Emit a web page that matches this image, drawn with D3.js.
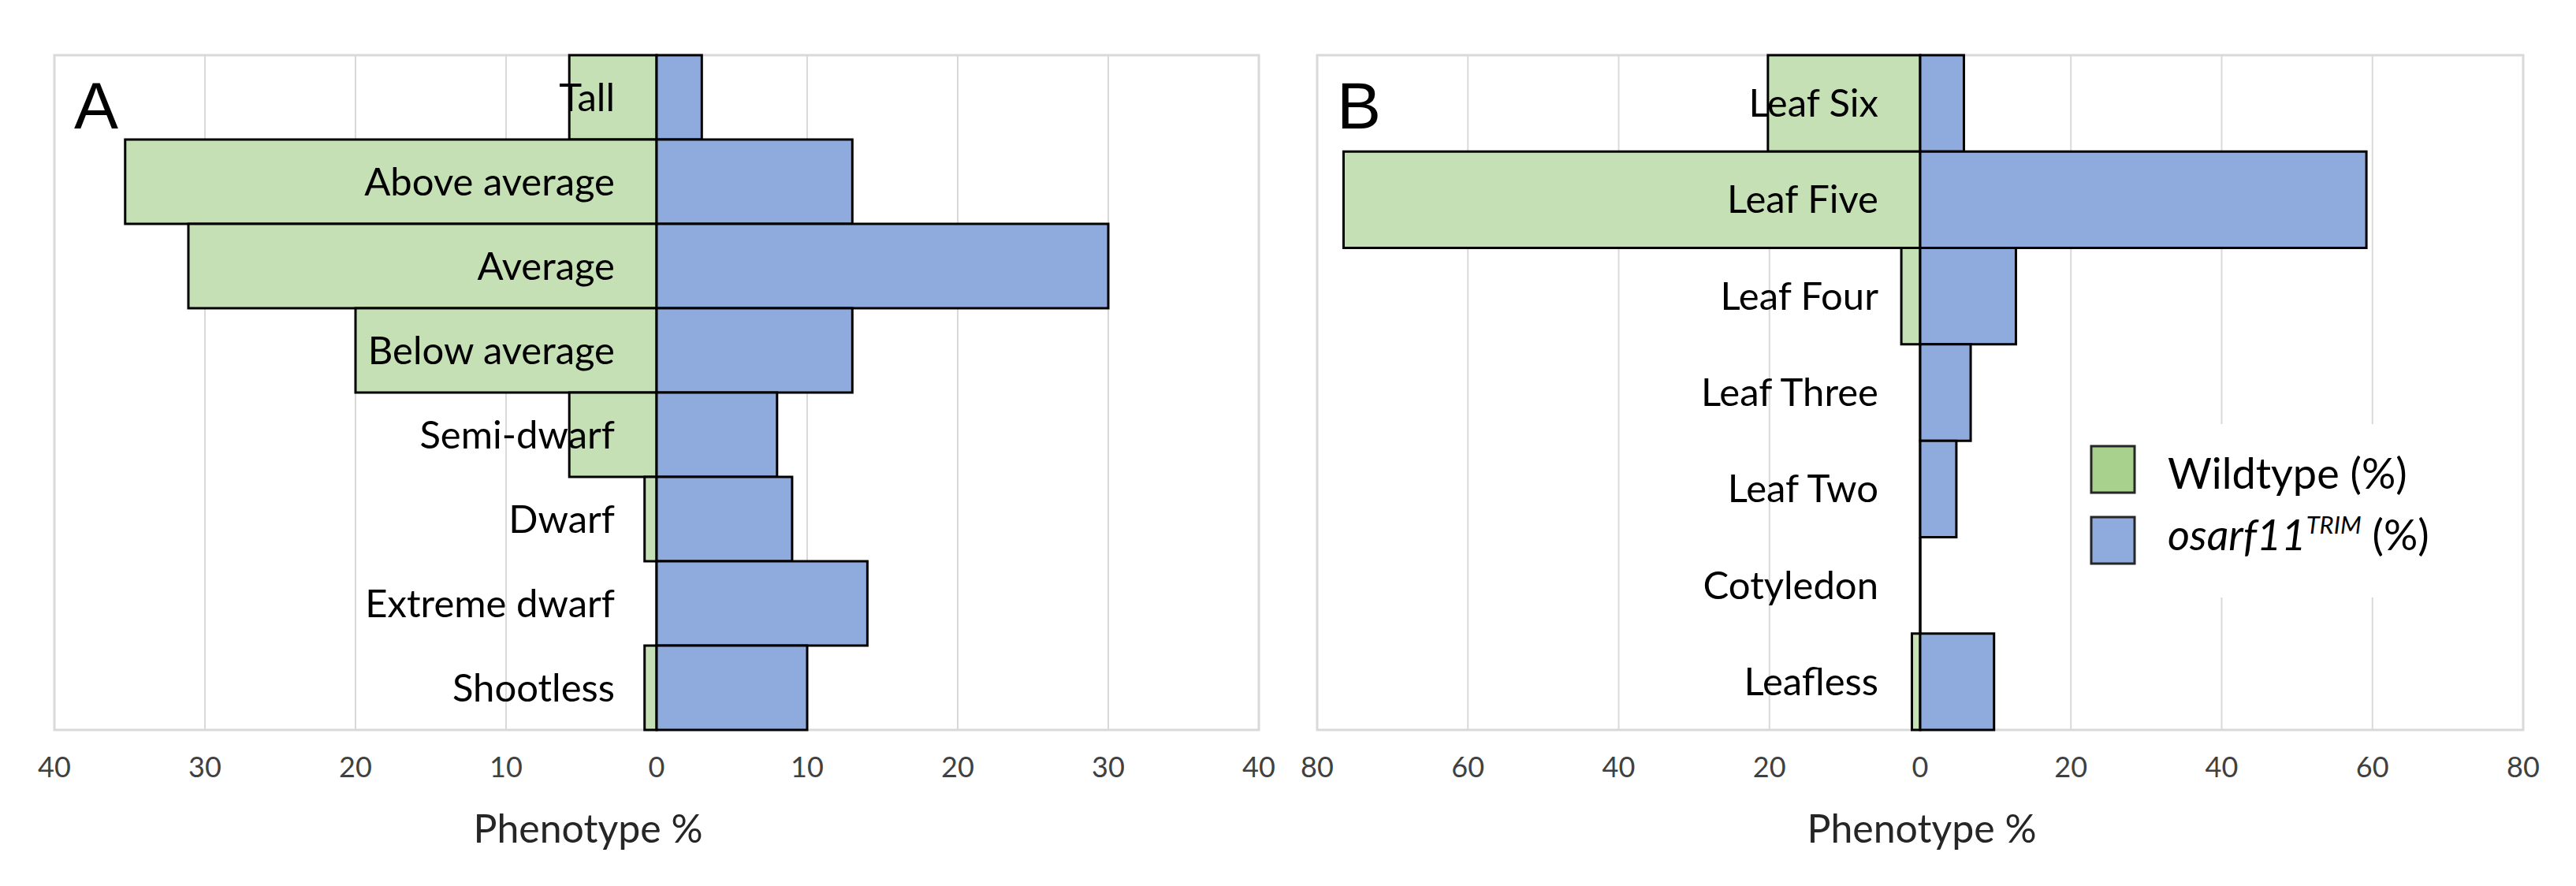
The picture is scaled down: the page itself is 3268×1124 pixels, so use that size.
<!DOCTYPE html>
<html>
<head>
<meta charset="utf-8">
<script src="https://cdn.jsdelivr.net/npm/d3@7"></script>
<style>
  body { margin: 0; background: #fff; }
  text { font-family: Lato, "Open Sans", sans-serif; }
</style>
</head>
<body>
<script>
// panel A: plant height phenotypes
var catsA = ["Tall", "Above average", "Average", "Below average", "Semi-dwarf", "Dwarf", "Extreme dwarf", "Shootless"];
var wildA = [5.8, 35.3, 31.1, 20.0, 5.8, 0.8, 0, 0.8];
var trimA = [3.0, 13.0, 30.0, 13.0, 8.0, 9.0, 14.0, 10.0];
var ticksA = [-40, -30, -20, -10, 0, 10, 20, 30, 40];

// panel B: leaf number phenotypes
var catsB = ["Leaf Six", "Leaf Five", "Leaf Four", "Leaf Three", "Leaf Two", "Cotyledon", "Leafless"];
var wildB = [20.2, 76.5, 2.5, 0, 0, 0, 1.1];
var trimB = [5.8, 59.2, 12.7, 6.7, 4.8, 0, 9.8];
var ticksB = [-80, -60, -40, -20, 0, 20, 40, 60, 80];

var seriesNames = ["Wildtype (%)", "osarf11", "TRIM", " (%)"];

var W = 3268, H = 1124;
var plotTop = 70, plotBottom = 926;
var green = "#c5e0b4", greenLegend = "#a9d18e", blue = "#8faadc";

var svg = d3.select("body").append("svg")
    .attr("width", W)
    .attr("height", H);

function panel(opts) {
  var x = d3.scaleLinear().domain(opts.domain).range([opts.left, opts.right]);
  var y = d3.scaleBand().domain(opts.cats).range([plotTop, plotBottom]).padding(0);
  var g = svg.append("g");

  // gridlines
  g.selectAll("line.grid")
    .data(opts.ticks)
    .enter().append("line")
      .attr("class", "grid")
      .attr("x1", function(d) { return x(d); })
      .attr("x2", function(d) { return x(d); })
      .attr("y1", plotTop)
      .attr("y2", plotBottom)
      .style("stroke", "#d9d9d9")
      .style("stroke-width", 2);

  // frame
  g.append("rect")
      .attr("x", opts.left)
      .attr("y", plotTop)
      .attr("width", opts.right - opts.left)
      .attr("height", plotBottom - plotTop)
      .style("fill", "none")
      .style("stroke", "#d9d9d9")
      .style("stroke-width", 3);

  // bars drawn as paths so zero-width bars still show their outline
  function bar(x0, x1, cat) {
    var y0 = y(cat), h = y.bandwidth();
    return "M" + x0 + "," + y0 + "H" + x1 + "V" + (y0 + h) + "H" + x0 + "Z";
  }

  g.selectAll("path.wild")
    .data(opts.cats)
    .enter().append("path")
      .attr("class", "wild")
      .attr("d", function(d, i) { return bar(x(-opts.wild[i]), x(0), d); })
      .style("fill", green)
      .style("stroke", "#000")
      .style("stroke-width", 3);

  g.selectAll("path.trim")
    .data(opts.cats)
    .enter().append("path")
      .attr("class", "trim")
      .attr("d", function(d, i) { return bar(x(0), x(opts.trim[i]), d); })
      .style("fill", blue)
      .style("stroke", "#000")
      .style("stroke-width", 3);

  // category labels sit inside the plot, left of zero
  g.selectAll("text.cat")
    .data(opts.cats)
    .enter().append("text")
      .attr("class", "cat")
      .attr("x", x(0) - 53)
      .attr("y", function(d) { return y(d) + y.bandwidth() / 2 + 17; })
      .attr("text-anchor", "end")
      .style("font-size", "49px")
      .style("fill", "#000")
      .text(function(d) { return d; });

  // tick labels
  g.selectAll("text.tick")
    .data(opts.ticks)
    .enter().append("text")
      .attr("class", "tick")
      .attr("x", function(d) { return x(d); })
      .attr("y", 986)
      .attr("text-anchor", "middle")
      .style("font-size", "36px")
      .style("fill", "#404040")
      .text(function(d) { return Math.abs(d); });

  // axis title
  g.append("text")
      .attr("x", opts.titleX)
      .attr("y", 1069)
      .attr("text-anchor", "middle")
      .style("font-size", "50px")
      .style("fill", "#262626")
      .text("Phenotype %");

  // panel letter
  g.append("text")
      .attr("x", opts.left + 25)
      .attr("y", 163)
      .style("font-family", "'Liberation Sans', Arial, sans-serif")
      .style("font-size", "84px")
      .style("fill", "#000")
      .text(opts.letter);

  return g;
}

panel({cats: catsA, wild: wildA, trim: trimA, ticks: ticksA, domain: [-40, 40],
       left: 69, right: 1597, titleX: 746, letter: "A"});

var gB = panel({cats: catsB, wild: wildB, trim: trimB, ticks: ticksB, domain: [-80, 80],
       left: 1671, right: 3201, titleX: 2438, letter: "B"});

// legend (white box hides the gridlines behind it)
var legend = gB.append("g");
legend.append("rect")
    .attr("x", 2636).attr("y", 538)
    .attr("width", 550).attr("height", 220)
    .style("fill", "#fff");

var legendColors = [greenLegend, blue];
var legendY = [566, 656];
legend.selectAll("rect.key")
  .data(legendColors)
  .enter().append("rect")
    .attr("class", "key")
    .attr("x", 2653)
    .attr("y", function(d, i) { return legendY[i]; })
    .attr("width", 55)
    .attr("height", 59)
    .style("fill", function(d) { return d; })
    .style("stroke", "#262626")
    .style("stroke-width", 3);

legend.append("text")
    .attr("x", 2750).attr("y", 620)
    .style("font-size", "54px")
    .style("fill", "#000")
    .text(seriesNames[0]);

var t2 = legend.append("text")
    .attr("x", 2750).attr("y", 698)
    .style("font-size", "54px")
    .style("fill", "#000");
t2.append("tspan").style("font-style", "italic").text(seriesNames[1]);
t2.append("tspan").style("font-style", "italic").style("font-size", "31px")
    .attr("dy", -21).text(seriesNames[2]);
t2.append("tspan").attr("dy", 21).text(seriesNames[3]);
</script>
</body>
</html>
